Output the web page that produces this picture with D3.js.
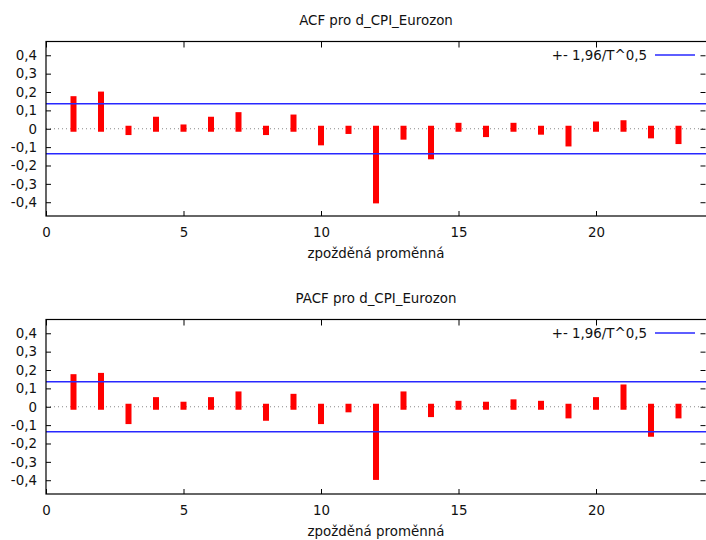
<!DOCTYPE html>
<html>
<head>
<meta charset="utf-8">
<script src="https://cdn.jsdelivr.net/npm/d3@7/dist/d3.min.js"></script>
<style>
  body { margin: 0; background: #fff; }
  text { font-family: "DejaVu Sans", Verdana, sans-serif; fill: #111; }
</style>
</head>
<body>
<div id="chart"></div>
<script>
// lags 1..23 and the correlogram values
const lags = [1, 2, 3, 4, 5, 6, 7, 8, 9, 10, 11, 12, 13, 14, 15, 16, 17, 18, 19, 20, 21, 22, 23];
const acfValues = [0.161, 0.186, -0.018, 0.049, 0.007, 0.049, 0.074, -0.018, 0.061, -0.074, -0.012,
  -0.39, -0.043, -0.15, 0.016, -0.029, 0.016, -0.016, -0.08, 0.023, 0.03, -0.036, -0.067];
const pacfValues = [0.161, 0.168, -0.078, 0.036, 0.011, 0.036, 0.067, -0.06, 0.054, -0.078, -0.014,
  -0.382, 0.067, -0.04, 0.016, 0.011, 0.024, 0.016, -0.047, 0.036, 0.105, -0.147, -0.047];
const confBand = 0.136; // +- 1,96/T^0,5
const xTicks = [0, 5, 10, 15, 20];
const yTicks = [-0.4, -0.3, -0.2, -0.1, 0, 0.1, 0.2, 0.3, 0.4];

const W = 706, H = 540;
const fontSize = "13.4px";
const svg = d3.select("#chart").append("svg")
  .attr("width", W)
  .attr("height", H);

const commaFmt = v => v === 0 ? "0" : d3.format(".1f")(v).replace(".", ",").replace("−", "-");

const panels = [
  { title: "ACF pro d_CPI_Eurozon", values: acfValues, top: 41.5 },
  { title: "PACF pro d_CPI_Eurozon", values: pacfValues, top: 319.5 }
];

const left = 46, right = 706, plotH = 174.5;

const x = d3.scaleLinear().domain([0, 24]).range([left, right]);

panels.forEach(p => {
  const g = svg.append("g");
  const y = d3.scaleLinear()
    .domain([-0.475, 0.475])
    .range([p.top + plotH, p.top]);

  // title
  g.append("text")
    .attr("x", (left + right) / 2)
    .attr("y", p.top - 16.5)
    .attr("text-anchor", "middle")
    .style("font-size", fontSize)
    .text(p.title);

  // dotted zero line
  g.append("line")
    .attr("x1", left).attr("x2", right)
    .attr("y1", y(0)).attr("y2", y(0))
    .attr("stroke", "#888")
    .attr("stroke-width", 1)
    .attr("stroke-dasharray", "1,3");

  // bars (impulses)
  g.selectAll(".bar")
    .data(lags.map((l, i) => ({ lag: l, v: p.values[i] })))
    .enter().append("rect")
    .attr("class", "bar")
    .attr("x", d => x(d.lag) - 3)
    .attr("y", d => Math.min(y(d.v), y(0)) - 3)
    .attr("width", 6)
    .attr("height", d => Math.abs(y(d.v) - y(0)) + 6)
    .attr("fill", "#ff0000");

  // confidence band lines
  [confBand, -confBand].forEach(c => {
    g.append("line")
      .attr("x1", left).attr("x2", right)
      .attr("y1", y(c)).attr("y2", y(c))
      .attr("stroke", "#2828ff")
      .attr("stroke-width", 1.3);
  });

  // axes with inward ticks
  const yAxis = g.append("g")
    .attr("transform", `translate(${left},0)`)
    .call(d3.axisLeft(y).tickValues(yTicks).tickSize(-5).tickPadding(9).tickFormat(commaFmt));
  yAxis.select(".domain").remove();
  yAxis.selectAll("text").style("font-size", fontSize).attr("fill", "#111");

  const yAxisR = g.append("g")
    .attr("transform", `translate(${right - 0.5},0)`)
    .call(d3.axisRight(y).tickValues(yTicks).tickSize(-5).tickFormat(""));
  yAxisR.select(".domain").remove();

  const xAxis = g.append("g")
    .attr("transform", `translate(0,${p.top + plotH})`)
    .call(d3.axisBottom(x).tickValues(xTicks).tickSize(-5).tickPadding(11).tickFormat(d3.format("d")));
  xAxis.select(".domain").remove();
  xAxis.selectAll("text").style("font-size", fontSize).attr("fill", "#111");

  const xAxisT = g.append("g")
    .attr("transform", `translate(0,${p.top})`)
    .call(d3.axisTop(x).tickValues(xTicks).tickSize(-6).tickFormat(""));
  xAxisT.select(".domain").remove();

  // frame
  g.append("rect")
    .attr("x", left).attr("y", p.top)
    .attr("width", right - left + 2).attr("height", plotH)
    .attr("fill", "none")
    .attr("stroke", "#000")
    .attr("stroke-width", 1.2);

  // x label
  g.append("text")
    .attr("x", (left + right) / 2)
    .attr("y", p.top + plotH + 42)
    .attr("text-anchor", "middle")
    .style("font-size", fontSize)
    .text("zpožděná proměnná");

  // legend
  g.append("text")
    .attr("x", 647)
    .attr("y", p.top + 18)
    .attr("text-anchor", "end")
    .style("font-size", fontSize)
    .text("+- 1,96/T^0,5");
  g.append("line")
    .attr("x1", 655).attr("x2", 695)
    .attr("y1", p.top + 13.5).attr("y2", p.top + 13.5)
    .attr("stroke", "#2828ff")
    .attr("stroke-width", 1.3);
});
</script>
</body>
</html>
